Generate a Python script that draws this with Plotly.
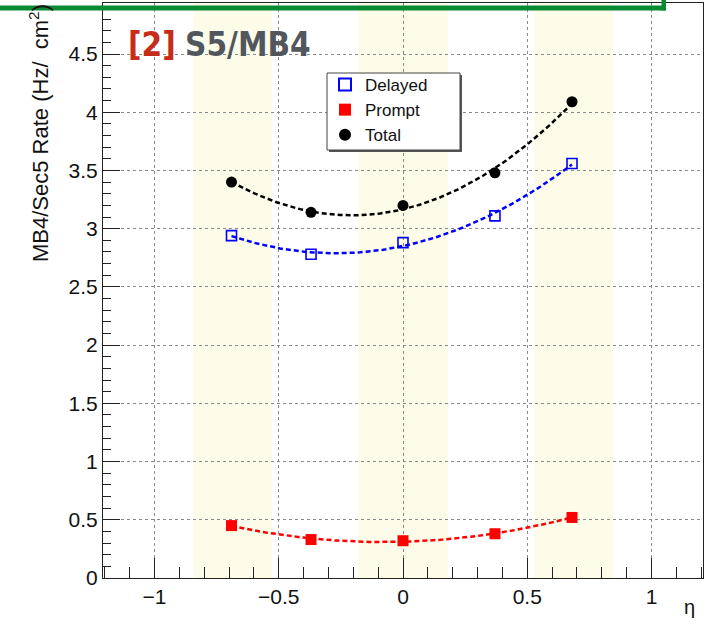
import numpy as np
import plotly.graph_objects as go

# eta positions of the five wheel measurements
eta = [-0.69, -0.37, 0.0, 0.37, 0.68]

# MB4 / sector 5 hit rates (Hz/cm^2)
delayed = [2.94, 2.78, 2.88, 3.11, 3.56]
prompt = [0.45, 0.33, 0.32, 0.38, 0.52]
total = [3.40, 3.14, 3.20, 3.48, 4.09]

# shaded eta bands of the wheels
bands = [(-0.842, -0.527), (-0.18, 0.18), (0.528, 0.844)]

x_ticks = [-1, -0.5, 0, 0.5, 1]
y_ticks = [0, 0.5, 1, 1.5, 2, 2.5, 3, 3.5, 4, 4.5]

W, H = 717, 626
ML, MR, MT, MB = 103, 14, 3, 48
PW, PH = W - ML - MR, H - MT - MB


def px_x(p):
    return (p - ML) / PW


def px_y(p):
    return (H - MB - p) / PH


fig = go.Figure()

series = [
    ("Delayed", delayed, "#0000ff", dict(symbol="square-open", size=10, color="#0000ff", line=dict(width=1.6, color="#0000ff"))),
    ("Prompt", prompt, "#ff0000", dict(symbol="square", size=11, color="#ff0000")),
    ("Total", total, "#000000", dict(symbol="circle", size=11, color="#000000")),
]

# second-order polynomial fit of each series, drawn dashed
for name, vals, col, mk in series:
    coef = np.polyfit(eta, vals, 2)
    xf = np.linspace(eta[0], eta[-1], 120)
    fig.add_trace(go.Scatter(
        x=xf, y=np.polyval(coef, xf), mode="lines",
        line=dict(color=col, width=2.5, dash="5px,3px"),
        showlegend=False, hoverinfo="skip"))

for name, vals, col, mk in series:
    fig.add_trace(go.Scatter(x=eta, y=vals, mode="markers", name=name, marker=mk))

shapes = []
for lo, hi in bands:
    shapes.append(dict(type="rect", xref="x", yref="paper", x0=lo, x1=hi, y0=0, y1=1,
                       fillcolor="rgb(252,252,233)", line=dict(width=0), layer="below"))

# legend frame with a thin drop shadow
shapes.append(dict(type="rect", xref="paper", yref="paper",
                   x0=px_x(329), x1=px_x(462), y0=px_y(152), y1=px_y(75),
                   fillcolor="#555", line=dict(width=0), layer="above"))
shapes.append(dict(type="rect", xref="paper", yref="paper",
                   x0=px_x(327), x1=px_x(460), y0=px_y(150), y1=px_y(73),
                   fillcolor="white", line=dict(width=1, color="#444"), layer="above"))

# green frame edge across the top
green = "#0a8a32"
shapes.append(dict(type="rect", xref="paper", yref="paper",
                   x0=px_x(-2), x1=px_x(666), y0=px_y(10.5), y1=px_y(5.5),
                   fillcolor=green, line=dict(width=0), layer="above"))
shapes.append(dict(type="rect", xref="paper", yref="paper",
                   x0=px_x(661.5), x1=px_x(666), y0=px_y(10.5), y1=px_y(-2),
                   fillcolor=green, line=dict(width=0), layer="above"))

title_font = "DejaVu Sans Condensed, Liberation Sans Narrow, sans-serif"
annotations = [
    dict(xref="paper", yref="paper", x=px_x(126), y=px_y(45), xanchor="left", yanchor="middle",
         text="[2]", showarrow=False,
         font=dict(family=title_font, size=33, weight="bold", color="#c62c18")),
    dict(xref="paper", yref="paper", x=px_x(183), y=px_y(45), xanchor="left", yanchor="middle",
         text="S5/MB4", showarrow=False,
         font=dict(family=title_font, size=33, weight="bold", color="#52575d")),
    dict(xref="paper", yref="paper", x=px_x(39), y=px_y(2), xanchor="center", yanchor="top",
         text="MB4/Sec5 Rate (Hz/  cm<sup>2</sup>)", textangle=-90, showarrow=False,
         font=dict(family="Liberation Sans, Arial, sans-serif", size=22, color="#111")),
    dict(xref="paper", yref="paper", x=px_x(697), y=px_y(594), xanchor="right", yanchor="top",
         text="η", showarrow=False,
         font=dict(family="Liberation Sans, Arial, sans-serif", size=20, color="#111")),
]

axis_font = dict(family="Liberation Sans, Arial, sans-serif", size=21, color="#111")

fig.update_layout(
    width=W, height=H,
    margin=dict(l=ML, r=MR, t=MT, b=MB),
    paper_bgcolor="white", plot_bgcolor="white",
    shapes=shapes, annotations=annotations,
    showlegend=True,
    legend=dict(x=px_x(325), y=px_y(67), xanchor="left", yanchor="top",
                bgcolor="rgba(0,0,0,0)", borderwidth=0,
                font=dict(family="Liberation Sans, Arial, sans-serif", size=17, color="#111"),
                itemsizing="constant", tracegroupgap=0),
    xaxis=dict(range=[-1.207, 1.207], tickvals=x_ticks, ticks="inside", ticklen=20, tickwidth=1,
               tickcolor="#222", showline=True, linecolor="#222", linewidth=1, mirror=True,
               showgrid=True, gridcolor="#8a8a8a", griddash="dot", gridwidth=1, zeroline=False,
               tickfont=axis_font, ticklabelstandoff=0,
               minor=dict(dtick=0.1, tick0=0, ticks="inside", ticklen=11, tickcolor="#222", showgrid=False)),
    yaxis=dict(range=[0, 4.938], tickvals=y_ticks, ticktext=[f"{v:g}" for v in y_ticks],
               ticks="inside", ticklen=17, tickwidth=1,
               tickcolor="#222", showline=True, linecolor="#222", linewidth=1, mirror=True,
               showgrid=True, gridcolor="#8a8a8a", griddash="dot", gridwidth=1, zeroline=False,
               tickfont=axis_font,
               minor=dict(dtick=0.1, tick0=0, ticks="inside", ticklen=8, tickcolor="#222", showgrid=False)),
)

fig.write_html("out.html")
